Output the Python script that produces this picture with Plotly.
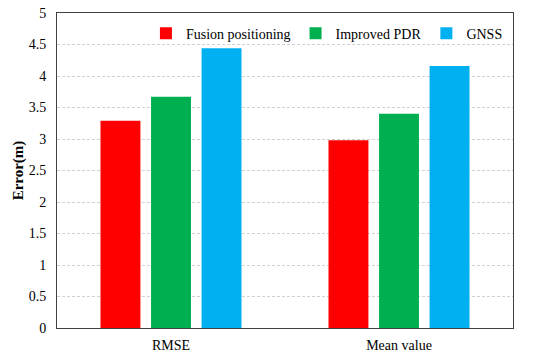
import plotly.graph_objects as go

categories = ["RMSE", "Mean value"]
series_names = ["Fusion positioning", "Improved PDR", "GNSS"]
fusion = [3.29, 2.98]
improved_pdr = [3.67, 3.40]
gnss = [4.44, 4.16]
colors = ["#FF0000", "#00B050", "#00B0F0"]
y_ticks = [0, 0.5, 1, 1.5, 2, 2.5, 3, 3.5, 4, 4.5, 5]
y_tick_labels = ["0", "0.5", "1", "1.5", "2", "2.5", "3", "3.5", "4", "4.5", "5"]

FONT = "Times New Roman"

fig = go.Figure()
for name, vals, c in zip(series_names, [fusion, improved_pdr, gnss], colors):
    fig.add_trace(go.Bar(x=categories, y=vals, name=name, marker=dict(color=c, line=dict(width=0))))

fig.update_layout(
    width=550, height=357,
    margin=dict(l=57, r=37, t=13, b=29, autoexpand=False),
    paper_bgcolor="white", plot_bgcolor="white",
    barmode="group", bargap=0.335, bargroupgap=0.21,
    font=dict(family=FONT, size=14, color="black"),
    showlegend=True,
    legend=dict(orientation="h", x=0.195, y=0.985, xanchor="left", yanchor="top",
                bgcolor="rgba(0,0,0,0)", font=dict(family=FONT, size=14),
                itemwidth=30, tracegroupgap=0),
)
fig.update_xaxes(showline=True, linecolor="#404040", linewidth=1, mirror=True,
                 ticks="", showgrid=False, tickfont=dict(family=FONT, size=14),
                 ticklabelstandoff=4, automargin=False)
fig.update_yaxes(range=[0, 5], tickvals=y_ticks, ticktext=y_tick_labels,
                 showline=True, linecolor="#404040", linewidth=1, mirror=True,
                 showgrid=True, gridcolor="#D0D0D0", griddash="3px,2px", gridwidth=1,
                 zeroline=False, ticks="", tickfont=dict(family=FONT, size=14),
                 ticklabelstandoff=7, ticklabeloverflow="allow", automargin=False,
                 title=dict(text="<b>Error(m)</b>", font=dict(family=FONT, size=15), standoff=1))

fig.write_html("out.html", config={"displayModeBar": False},
               post_script="document.body.style.margin='0';document.body.style.overflow='hidden';")
